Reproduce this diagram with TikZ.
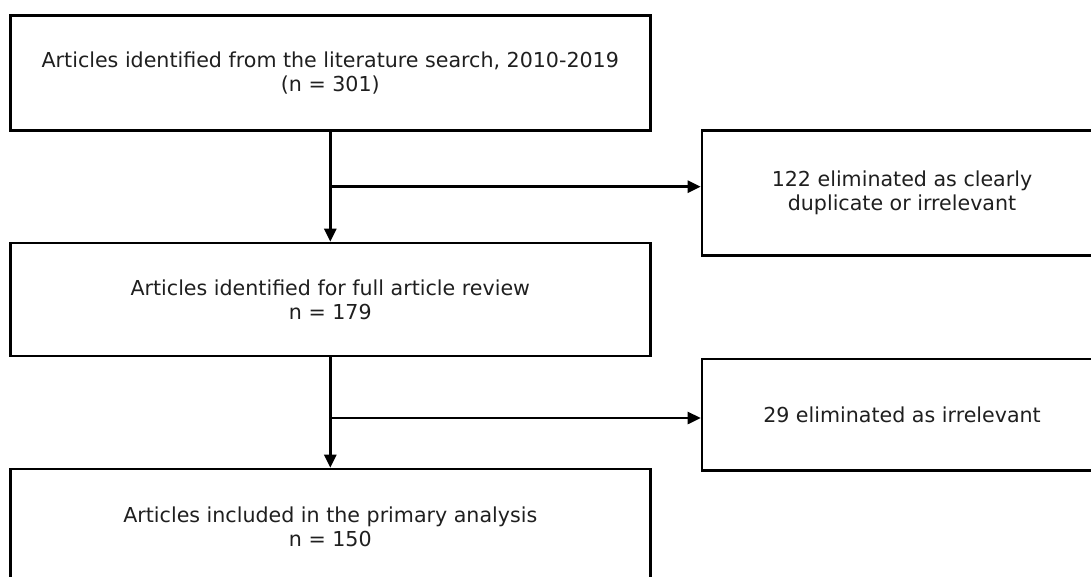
\documentclass[tikz,border=0pt]{standalone}
\usepackage{fontspec}
\setmainfont{DejaVu Sans}
\usetikzlibrary{arrows.meta}
\tikzset{
  box/.style={draw=black, line width=2.6pt, inner sep=0pt, align=center,
    font=\fontsize{20.6}{24}\selectfont, text=black!88},
  mainbox/.style={box, minimum width=640pt},
  sidebox/.style={box, minimum width=400pt},
  arr/.style={line width=2.6pt, -{Triangle[length=13pt,width=12pt]}},
  ln/.style={line width=2.6pt}
}
\begin{document}
\begin{tikzpicture}[x=1pt,y=-1pt]
\useasboundingbox (0,0) rectangle (1091,577);
\clip (0,0) rectangle (1091,577);
\fill[white] (0,0) rectangle (1091,577);
\node[mainbox, minimum height=115pt] (b1) at (330.3,73)
  {Articles identified from the literature search, 2010-2019\\(n = 301)};
\node[mainbox, minimum height=113pt] (b2) at (330.3,299.5)
  {Articles identified for full article review\\n = 179};
\node[mainbox, minimum height=115pt] (b3) at (330.3,526.5)
  {Articles included in the primary analysis\\n = 150};
\node[sidebox, minimum height=125pt] (r1) at (902,193)
  {122 eliminated as clearly\\duplicate or irrelevant};
\node[sidebox, minimum height=111.5pt] (r2) at (902,414.7)
  {29 eliminated as irrelevant};
\coordinate (j1) at (330.3,186.7);
\coordinate (j2) at (330.3,418);
\draw[arr] (b1.south) -- (b2.north);
\draw[arr] (b2.south) -- (b3.north);
\draw[arr] (j1) -- (j1 -| r1.west);
\draw[arr] (j2) -- (j2 -| r2.west);
\end{tikzpicture}
\end{document}
